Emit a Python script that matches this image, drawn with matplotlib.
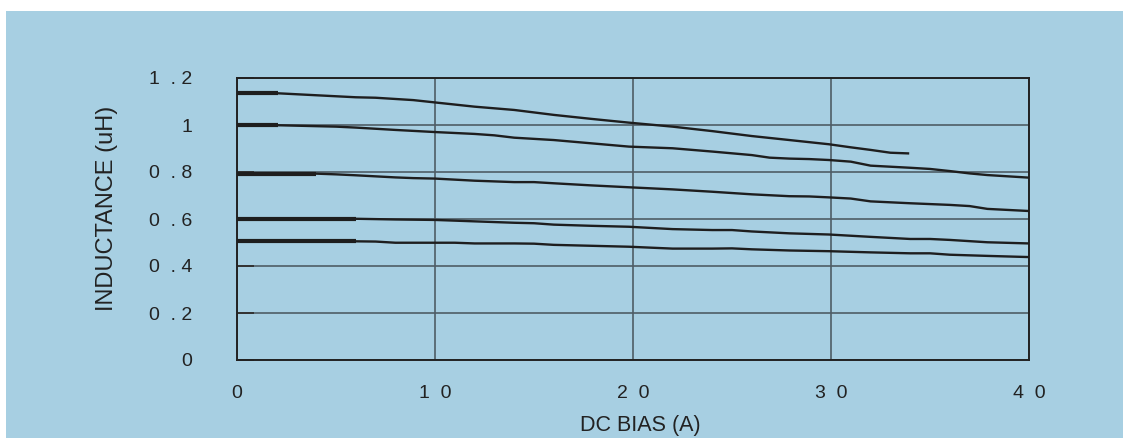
import matplotlib.pyplot as plt
from matplotlib.patches import Rectangle

plt.rcParams["font.family"] = ["Liberation Sans", "DejaVu Sans"]

BG = "#a7cfe2"
LINE = "#1e1e1e"
GRID = "#4f5d66"

# DC bias (A) / inductance (uH), one curve per part
bias_a = [0, 2.05, 6.0, 7.0, 8.9, 10, 12, 14, 16, 17.9, 19.8, 22, 24, 26, 27.9, 29.9, 31, 32, 33, 33.95]
ind_a = [1.135, 1.135, 1.118, 1.116, 1.106, 1.096, 1.078, 1.064, 1.043, 1.026, 1.010,
         0.993, 0.974, 0.953, 0.936, 0.918, 0.905, 0.894, 0.882, 0.879]

bias_b = [0, 2.05, 5, 6, 8, 10, 12, 13, 14, 16, 17.9, 19.8, 22, 24, 26, 26.9, 27.9, 28.9,
          29.9, 31, 32, 34, 35, 36, 37, 37.9, 40]
ind_b = [0.999, 0.999, 0.993, 0.989, 0.979, 0.970, 0.962, 0.956, 0.946, 0.936, 0.922, 0.908,
         0.901, 0.887, 0.872, 0.861, 0.857, 0.855, 0.851, 0.844, 0.827, 0.818, 0.813, 0.804,
         0.794, 0.787, 0.776]

bias_c = [0, 4.0, 5, 6, 8, 8.9, 10, 12, 14, 15, 16, 17.9, 19.8, 22, 24, 26, 27.9, 28.9, 29.9,
          31, 32, 34, 36, 37, 37.9, 40]
ind_c = [0.793, 0.793, 0.790, 0.786, 0.777, 0.774, 0.772, 0.763, 0.757, 0.757, 0.752, 0.743,
         0.735, 0.726, 0.716, 0.705, 0.697, 0.696, 0.692, 0.687, 0.675, 0.667, 0.660, 0.655,
         0.643, 0.634]

bias_d = [0, 6.0, 8, 10, 12, 14, 15, 16, 17.9, 19.8, 22, 24, 25, 26, 27.9, 29.9, 32, 34, 35,
          36, 37.9, 40]
ind_d = [0.601, 0.601, 0.598, 0.596, 0.590, 0.584, 0.582, 0.576, 0.571, 0.567, 0.557, 0.553,
         0.553, 0.547, 0.539, 0.534, 0.524, 0.515, 0.515, 0.511, 0.501, 0.496]

bias_e = [0, 6.0, 7, 8, 10, 11, 12, 14, 15, 16, 17.9, 19.8, 22, 24, 25, 26, 27.9, 29.9, 32,
          34, 35, 36, 37.9, 40]
ind_e = [0.505, 0.505, 0.504, 0.499, 0.499, 0.499, 0.496, 0.496, 0.495, 0.490, 0.486, 0.482,
         0.474, 0.474, 0.475, 0.471, 0.466, 0.463, 0.458, 0.454, 0.454, 0.448, 0.443, 0.438]

curves = [(bias_a, ind_a), (bias_b, ind_b), (bias_c, ind_c), (bias_d, ind_d), (bias_e, ind_e)]

x_ticks = [0, 10, 20, 30, 40]
x_labels = ["0", "1  0", "2  0", "3  0", "4  0"]
y_ticks = [0, 0.2, 0.4, 0.6, 0.8, 1.0, 1.2]
y_labels = ["0", "0  . 2", "0  . 4", "0  . 6", "0  . 8", "1", "1  . 2"]

W, H = 1123, 438
fig = plt.figure(figsize=(W / 100, H / 100), dpi=100)
fig.patch.set_facecolor("white")
fig.add_artist(Rectangle((6 / W, 0), 1, (H - 11) / H, transform=fig.transFigure,
                         facecolor=BG, edgecolor="none", zorder=-10))

ax = fig.add_axes([237 / W, (H - 360) / H, (1029 - 237) / W, (360 - 78) / H])
ax.set_facecolor(BG)

for xs, ys in curves:
    ax.plot(xs, ys, color=LINE, linewidth=1.7, solid_capstyle="butt", zorder=3)
    # the flat start of each curve is drawn heavier in the original
    ax.plot(xs[:2], ys[:2], color=LINE, linewidth=3.0, solid_capstyle="butt", zorder=3)

ax.set_xlim(0, 40)
ax.set_ylim(0, 1.2)
ax.set_xticks(x_ticks)
ax.set_xticklabels(x_labels)
ax.set_yticks(y_ticks)
ax.set_yticklabels(y_labels)
ax.grid(True, color=GRID, linewidth=1.2)
ax.set_axisbelow(True)

ax.tick_params(axis="x", length=0, pad=18, labelsize=14, colors="#222222")
ax.tick_params(axis="y", direction="in", length=12, width=1.4, color="#333333",
               pad=32, labelsize=14, labelcolor="#222222")
for side in ["left", "bottom", "top", "right"]:
    ax.spines[side].set_linewidth(1.4)
    ax.spines[side].set_color("#222222")

fig.text(107.5 / W, 1 - 208 / H, "INDUCTANCE (uH)", rotation=90, ha="center", va="center",
         fontsize=17, color="#222222")
fig.text(640 / W, 1 - 425 / H, "DC BIAS (A)", ha="center", va="center",
         fontsize=15.5, color="#222222")

fig.savefig("out.png", dpi=100, facecolor=fig.get_facecolor())
